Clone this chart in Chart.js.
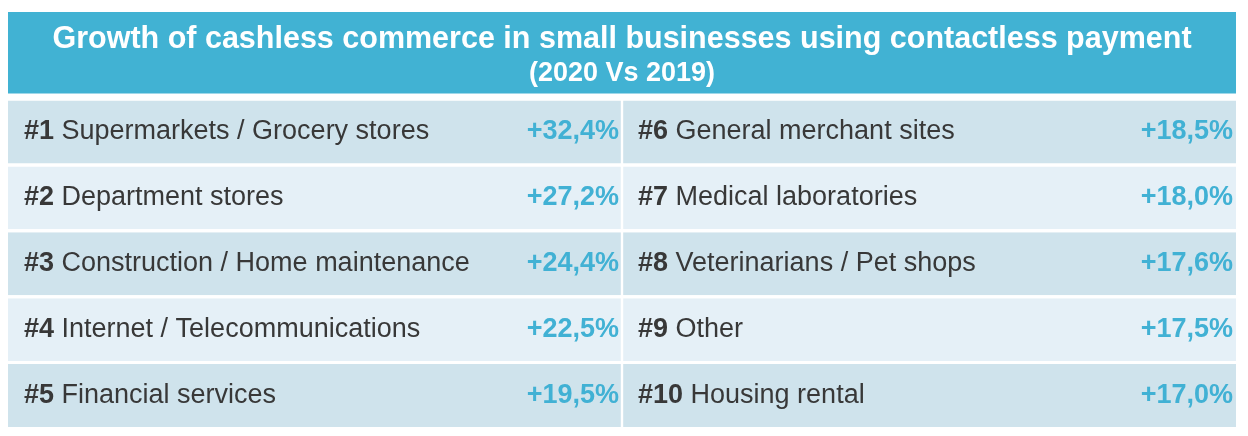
<!DOCTYPE html>
<html lang="en">
<head>
  <meta charset="UTF-8">
  <title>Cashless commerce growth</title>
  <script src="https://cdn.jsdelivr.net/npm/chart.js"></script>
  <style>
    body { margin: 0; background: #fff; }
    .chart { width: 1248px; height: 436px; }
  </style>
</head>
<body>
  <div class="chart">
    <canvas id="tableChart"></canvas>
  </div>

<script>
  // dados
  const rows = ['1', '2', '3', '4', '5'];
  const categories = [
    'Supermarkets / Grocery stores',
    'Department stores',
    'Construction / Home maintenance',
    'Internet / Telecommunications',
    'Financial services',
    'General merchant sites',
    'Medical laboratories',
    'Veterinarians / Pet shops',
    'Other',
    'Housing rental'
  ];
  const growth = [32.4, 27.2, 24.4, 22.5, 19.5, 18.5, 18.0, 17.6, 17.5, 17.0];
  const leftColumn = [1, 1, 1, 1, 1];
  const rightColumn = [1, 1, 1, 1, 1];

  const FONT = "'Liberation Sans', Arial, sans-serif";
  const rowColors = ['#cfe3ec', '#e5f0f7', '#cfe3ec', '#e5f0f7', '#cfe3ec'];

  function formatar(v) {
    return '+' + v.toFixed(1).replace('.', ',') + '%';
  }

  // faixa azul atras do titulo
  const headerBand = {
    id: 'headerBand',
    beforeDraw(chart) {
      const ctx = chart.ctx;
      const area = chart.chartArea;
      const top = chart.titleBlock.top;
      ctx.save();
      ctx.fillStyle = '#41b2d3';
      ctx.fillRect(area.left, top, area.right - area.left, area.top - 5.5 - top);
      ctx.restore();
    }
  };

  // textos das celulas
  const cellText = {
    id: 'cellText',
    afterDatasetsDraw(chart) {
      const ctx = chart.ctx;
      ctx.save();
      ctx.textBaseline = 'middle';
      chart.data.datasets.forEach(function (ds, di) {
        chart.getDatasetMeta(di).data.forEach(function (bar, i) {
          const p = bar.getProps(['x', 'y', 'base'], true);
          const idx = di * rows.length + i;
          const rank = '#' + (idx + 1);

          ctx.textAlign = 'left';
          ctx.fillStyle = '#383838';
          ctx.font = 'bold 27px ' + FONT;
          ctx.fillText(rank, p.base + 16, p.y);
          const w = ctx.measureText(rank + ' ').width;
          ctx.font = '27px ' + FONT;
          ctx.fillText(categories[idx], p.base + 16 + w, p.y);

          ctx.textAlign = 'right';
          ctx.fillStyle = '#41b1d4';
          ctx.font = 'bold 27px ' + FONT;
          ctx.fillText(formatar(growth[idx]), p.x - 3, p.y);
        });
      });
      ctx.restore();
    }
  };

  const config = {
    type: 'bar',
    data: {
      labels: rows,
      datasets: [
        {
          label: 'Left',
          data: leftColumn,
          backgroundColor: rowColors,
          borderColor: '#ffffff',
          borderWidth: { top: 0, right: 1.2, bottom: 0, left: 0 },
          borderSkipped: false
        },
        {
          label: 'Right',
          data: rightColumn,
          backgroundColor: rowColors,
          borderColor: '#ffffff',
          borderWidth: { top: 0, right: 0, bottom: 0, left: 1.2 },
          borderSkipped: false
        }
      ]
    },
    options: {
      indexAxis: 'y',
      responsive: true,
      maintainAspectRatio: false,
      animation: false,
      events: [],
      layout: { padding: { top: 12, left: 8, right: 12, bottom: 7.5 } },
      datasets: {
        bar: { categoryPercentage: 1, barPercentage: 0.955 }
      },
      scales: {
        x: { stacked: true, min: 0, max: 2, display: false },
        y: { stacked: true, display: false }
      },
      plugins: {
        legend: { display: false },
        tooltip: { enabled: false },
        title: {
          display: true,
          text: 'Growth of cashless commerce in small businesses using contactless payment',
          color: '#ffffff',
          font: { family: FONT, size: 30.5, weight: 'bold', lineHeight: 1 },
          padding: { top: 12, bottom: 0 }
        },
        subtitle: {
          display: true,
          text: '(2020 Vs 2019)',
          color: '#ffffff',
          font: { family: FONT, size: 27, weight: 'bold', lineHeight: 1 },
          padding: { top: 6, bottom: 11.5 }
        }
      }
    },
    plugins: [headerBand, cellText]
  };

  new Chart(document.getElementById('tableChart'), config);
</script>
</body>
</html>
